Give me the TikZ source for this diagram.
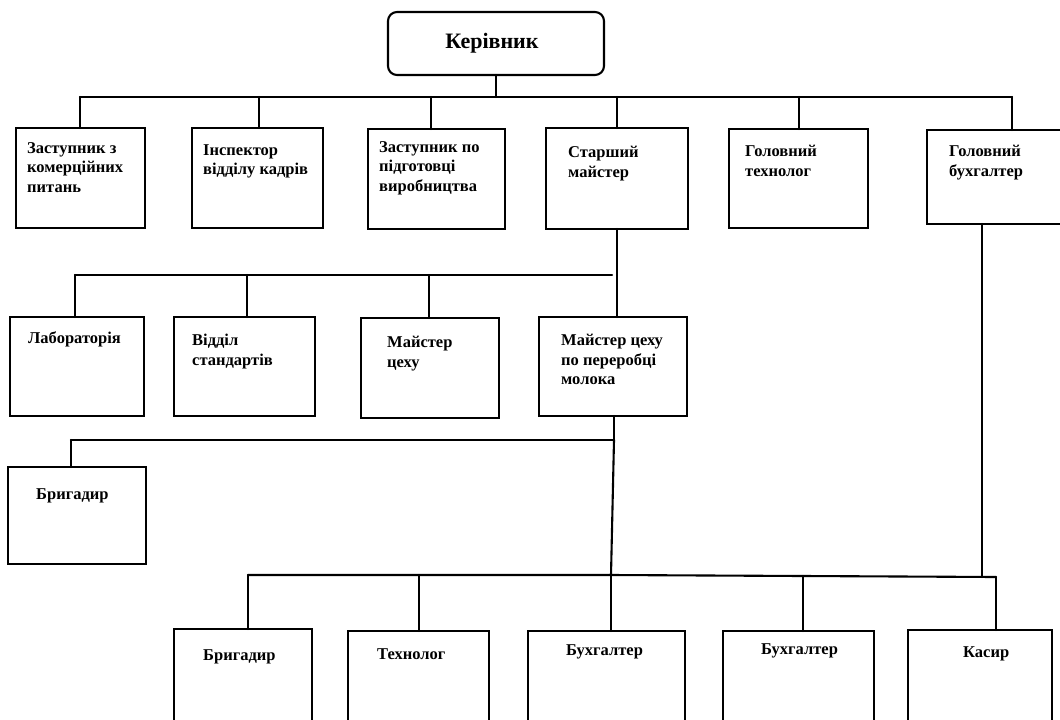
\documentclass[tikz,border=0pt]{standalone}
\usepackage{fontspec}
\setmainfont{Liberation Serif}
\begin{document}
\begin{tikzpicture}[x=1pt,y=-1pt,
  ln/.style={line width=2.1pt, line cap=round},
  box/.style={draw, line width=2.1pt, rectangle, inner sep=0pt, outer sep=0pt, anchor=north west},
  topbox/.style={draw, line width=2.1pt, rectangle, rounded corners=9pt, inner sep=0pt, outer sep=0pt, anchor=north west},
  lbl/.style={font=\fontsize{16.5}{19.5}\selectfont\bfseries, align=left, inner sep=0pt, anchor=north west},
  biglbl/.style={font=\fontsize{22}{26}\selectfont\bfseries, inner sep=0pt}]
\useasboundingbox (0,0) rectangle (1060,720);
\clip (0,0) rectangle (1060,720);
\fill[white] (0,0) rectangle (1060,720);

% top
\node[topbox, minimum width=216pt, minimum height=63pt] (top) at (388,12) {};
\node[biglbl] (topt) at (492,43) {Керівник};

% row 1
\node[box, minimum width=129pt, minimum height=100pt] (z1) at (16,128) {};
\node[box, minimum width=131pt, minimum height=100pt] (z2) at (192,128) {};
\node[box, minimum width=137pt, minimum height=100pt] (z3) at (368,129) {};
\node[box, minimum width=142pt, minimum height=101pt] (z4) at (546,128) {};
\node[box, minimum width=139pt, minimum height=99pt] (z5) at (729,129) {};
\node[box, minimum width=140pt, minimum height=94pt] (z6) at (927,130) {};
\node[lbl] (z1t) at (27,142) {Заступник з\\комерційних\\питань};
\node[lbl] (z2t) at (203,144) {Інспектор\\відділу кадрів};
\node[lbl] (z3t) at (379,141) {Заступник по\\підготовці\\виробництва};
\node[lbl] (z4t) at (568,146) {Старший\\майстер};
\node[lbl] (z5t) at (745,145) {Головний\\технолог};
\node[lbl] (z6t) at (949,145) {Головний\\бухгалтер};

% row 2
\node[box, minimum width=134pt, minimum height=99pt] (r1) at (10,317) {};
\node[box, minimum width=141pt, minimum height=99pt] (r2) at (174,317) {};
\node[box, minimum width=138pt, minimum height=100pt] (r3) at (361,318) {};
\node[box, minimum width=148pt, minimum height=99pt] (r4) at (539,317) {};
\node[lbl] (r1t) at (28,331) {Лабораторія};
\node[lbl] (r2t) at (192,334) {Відділ\\стандартів};
\node[lbl] (r3t) at (387,336) {Майстер\\цеху};
\node[lbl] (r4t) at (561,334) {Майстер цеху\\по переробці\\молока};

% row 3
\node[box, minimum width=138pt, minimum height=97pt] (g) at (8,467) {};
\node[lbl] (gt) at (36,488) {Бригадир};

% bottom row
\node[box, minimum width=138pt, minimum height=110pt] (b1) at (174,629) {};
\node[box, minimum width=141pt, minimum height=110pt] (b2) at (348,631) {};
\node[box, minimum width=157pt, minimum height=110pt] (b3) at (528,631) {};
\node[box, minimum width=151pt, minimum height=110pt] (b4) at (723,631) {};
\node[box, minimum width=144pt, minimum height=110pt] (b5) at (908,630) {};
\node[lbl] (b1t) at (203,649) {Бригадир};
\node[lbl] (b2t) at (377,648) {Технолог};
\node[lbl] (b3t) at (566,644) {Бухгалтер};
\node[lbl] (b4t) at (761,643) {Бухгалтер};
\node[lbl] (b5t) at (963,646) {Касир};

% connectors level 1
\coordinate (m1) at (80,97);
\coordinate (m2) at (259,97);
\coordinate (m3) at (431,97);
\coordinate (m4) at (617,97);
\coordinate (m5) at (799,97);
\coordinate (m6) at (1012,97);
\draw[ln] (m1) -- (m6);
\draw[ln] (top.south) -- (top.south |- m1);
\draw[ln] (m1) -- (m1 |- z1.north);
\draw[ln] (m2) -- (m2 |- z2.north);
\draw[ln] (m3) -- (m3 |- z3.north);
\draw[ln] (m4) -- (m4 |- z4.north);
\draw[ln] (m5) -- (m5 |- z5.north);
\draw[ln] (m6) -- (m6 |- z6.north);

% level 2
\coordinate (n1) at (75,275);
\coordinate (n2) at (247,275);
\coordinate (n3) at (429,275);
\coordinate (n4) at (612,275);
\draw[ln] (n1) -- (n4);
\draw[ln] (z4.south) -- (z4.south |- r4.north);
\draw[ln] (n1) -- (n1 |- r1.north);
\draw[ln] (n2) -- (n2 |- r2.north);
\draw[ln] (n3) -- (n3 |- r3.north);

% level 3
\coordinate (p1) at (71,440);
\coordinate (p2) at (614,440);
\draw[ln] (p1) -- (p2);
\draw[ln] (r4.south -| p2) -- (p2);
\draw[ln] (p1) -- (p1 |- g.north);

% level 4
\coordinate (q0) at (248,575);
\coordinate (q1) at (419,575);
\coordinate (q2) at (611,575);
\coordinate (q3) at (803,576);
\coordinate (q4) at (982,577);
\coordinate (q5) at (996,577);
\draw[ln] (q0) -- (q2) -- (q3) -- (q5);
\draw[ln] (p2) -- (q2);
\draw[ln] (z6.south -| q4) -- (q4);
\draw[ln] (q0) -- (q0 |- b1.north);
\draw[ln] (q1) -- (q1 |- b2.north);
\draw[ln] (q2) -- (q2 |- b3.north);
\draw[ln] (q3) -- (q3 |- b4.north);
\draw[ln] (q5) -- (q5 |- b5.north);
\end{tikzpicture}
\end{document}
